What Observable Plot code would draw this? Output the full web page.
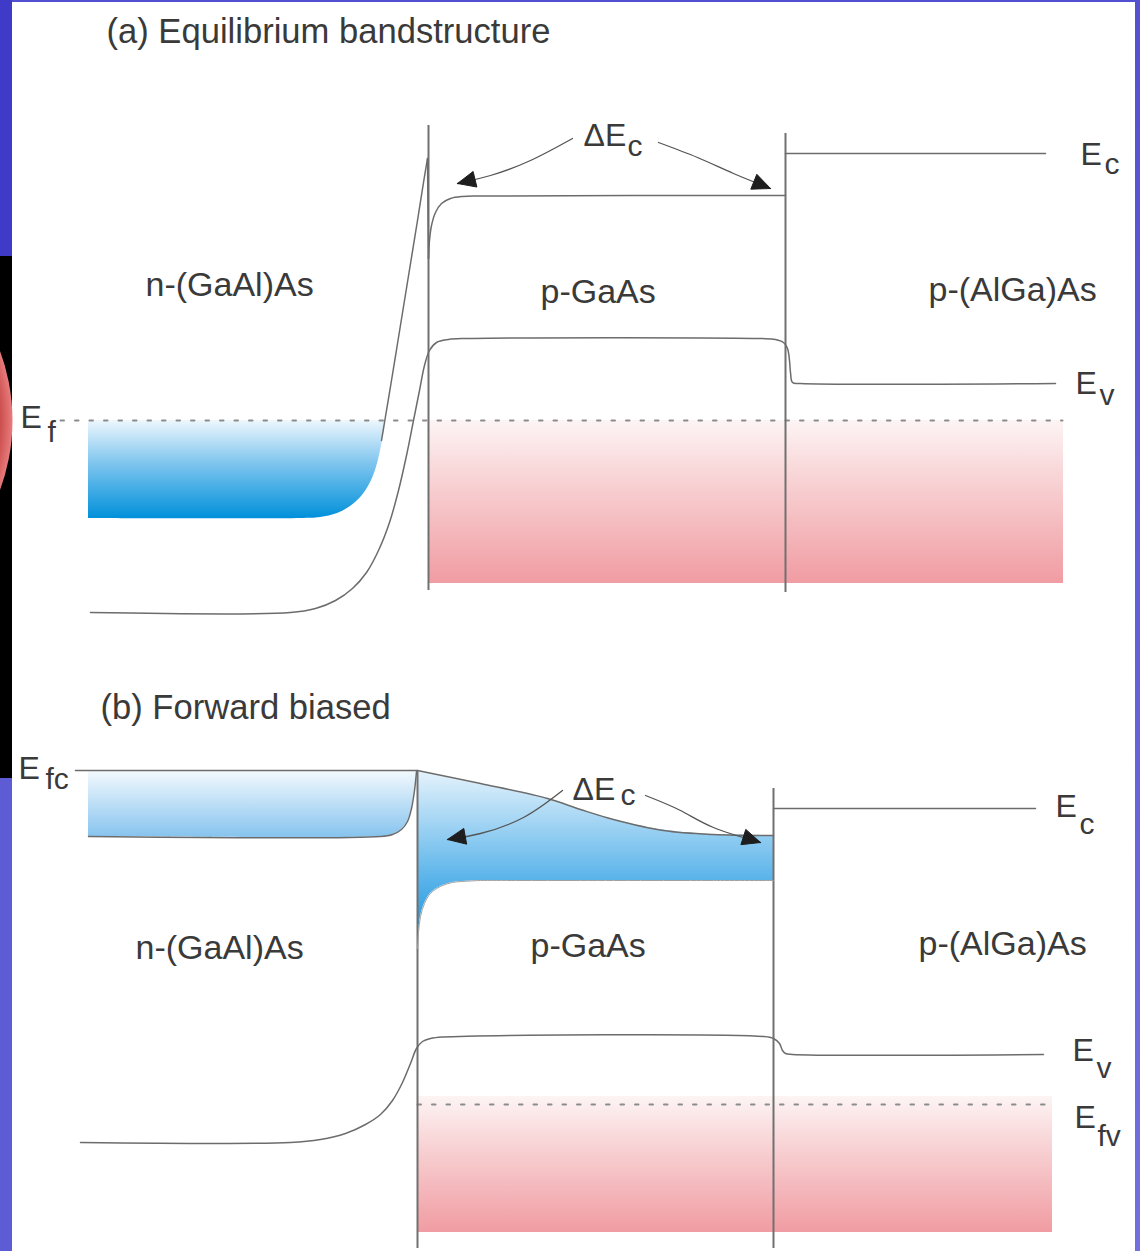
<!DOCTYPE html>
<html><head><meta charset="utf-8">
<script src="https://cdn.jsdelivr.net/npm/d3@7"></script>
<script src="https://cdn.jsdelivr.net/npm/@observablehq/plot@0.6"></script>
<style>html,body{margin:0;padding:0;background:#fff;overflow:hidden}#chart svg{display:block}</style>
</head><body><div id="chart"></div>
<script>
// ---------- DATA (position x, energy level y; both in diagram units) ----------
// Panel (a) equilibrium
const ecA_rise  = [[381,440],[384,422],[391,380],[397.5,340],[404,300],[410.5,260],[417,220],[423,182],[427,158]];
const ecA_spike = [[427,158],[428,258]];
const ecA_pGaAs = [[428,258],[429,240],[431,225],[435,212],[441,203],[450,198],[462,196],[480,195.5],[785,195]];
const ecA_right = [[785,153],[1045,153]];
const evA = [[90,612],[290,612],[315,608],[335,600],[352,588],[366,572],[378,550],[389,522],[398,490],[406,455],[413,420],[419,390],[424,365],[429,350],[436,342],[448,339],[465,338],[760,338],[775,339],[783,342],[787,348],[789,360],[790,372],[792,382],[800,383],[1055,383]];
const efA = [[60,420],[1062,420]];
const nFillA_x = [88,300,320,337,350,361,369,375,379,382,385];
const nFillA_bottom = [518,518,517,513,506,496,484,470,455,440,421];
const nFillA_top = 420;
const pFillA = {x1:428, x2:1063, y1:420, y2:583};

// Panel (b) forward biased
const ecB_left = [[75,770],[417,770]];
const ecB_leftBottom = [[88,836],[380,836],[392,834],[401,829],[407,821],[411,808],[414,790],[416,771]];
const ecB_pGaAs = [[417,770],[480,783],[547,798],[580,809],[613,819],[663,830],[713,834],[773,835]];
const ecB_right = [[773,808],[1035,808]];
const pGaAsB_x      = [417,418,420,424,430,440,452,470,480,515,547,580,613,640,663,690,713,773];
const pGaAsB_top    = [770,770.3,770.8,771.8,773,775.5,778.5,782,784,791,798,809,819,825.5,829.5,832.5,834,835];
const pGaAsB_bottom = [948,932,916,903,893,886,882,880.5,880,880,880,880,880,880,880,880,880,880];
const nFillB_x      = [88,380,392,401,407,411,414,416];
const nFillB_bottom = [836,836,834,829,821,808,790,771];
const nFillB_top = 770;
const evB = [[80,1142],[290,1142],[320,1139],[345,1133],[365,1124],[380,1114],[392,1100],[402,1082],[410,1063],[416,1048],[422,1041],[430,1038],[442,1036.5],[763,1036],[773,1038],[779,1043],[782,1050],[785,1053],[792,1054],[1043,1054]];
const efvB = [[417,1104],[1052,1104]];
const pFillB = {x1:417, x2:1052, y1:1096, y2:1232};

// Heterojunction interfaces
const interfaces = [[428,125,590],[785,133,592],[417,770,1248],[773,788,1248]];

// ΔEc arrows
const arrowPaths = {
  aL: [[572,138],[530,160],[490,175],[457,183]],
  aR: [[658,142],[697,157],[733,173],[770,188]],
  bL: [[562,790],[523,817],[480,833],[447,839]],
  bR: [[645,795],[680,810],[713,827],[760,842]]
};

// Text
const titles = [["(a) Equilibrium bandstructure",106,42],["(b) Forward biased",100,718]];
const regions = [["n-(GaAl)As",145,295],["p-GaAs",540,302],["p-(AlGa)As",928,300],
                 ["n-(GaAl)As",135,958],["p-GaAs",530,956],["p-(AlGa)As",918,954]];
// symbol main part, x, baseline, subscript, x, baseline
const symbols = [["ΔE",583,145,"c",627,155],["E",1080,164,"c",1104,173],["E",1075,393,"v",1099,404],["E",20,427,"f",47,441],
                 ["ΔE",572,799,"c",620,804],["E",18,778,"fc",45,788],["E",1055,816,"c",1079,833],["E",1072,1060,"v",1096,1077],["E",1074,1127,"fv",1097,1145]];

// Slide frame pieces
const frameLeft = [[0,256,"#3f3ac8"],[256,778,"#000000"],[778,1251,"#5d5cd4"]];

// ---------- BUILD ----------
const P = (arr, id) => arr.map(([x,y]) => ({x, y, id}));
const lineCol = "#6c6c6c", textCol = "#3a3a3a";
const font = "'Liberation Sans', Arial, Helvetica, sans-serif";

const nFillA = nFillA_x.map((x,i) => ({x, y1:nFillA_top, y2:nFillA_bottom[i]}));
const nFillB = nFillB_x.map((x,i) => ({x, y1:nFillB_top, y2:nFillB_bottom[i]}));
const pGaAsB = pGaAsB_x.map((x,i) => ({x, y1:pGaAsB_top[i], y2:pGaAsB_bottom[i]}));

const arrowLines = Object.entries(arrowPaths).flatMap(([k,a]) => P(a,k));
const heads = Object.entries(arrowPaths).flatMap(([k,a]) => {
  const [tx,ty] = a[a.length-1], [px,py] = a[a.length-2];
  const d = Math.hypot(tx-px, ty-py), ux = (tx-px)/d, uy = (ty-py)/d;
  const L = 18, W = 8;
  const bx = tx - ux*L, by = ty - uy*L;
  return [{x:tx,y:ty,id:k},{x:bx-uy*W,y:by+ux*W,id:k},{x:bx+uy*W,y:by-ux*W,id:k},{x:tx,y:ty,id:k}];
});

const defs = () => {
  const g = d3.create("svg:defs");
  const lin = (id, stops) => {
    const gr = g.append("linearGradient").attr("id", id).attr("x1",0).attr("y1",0).attr("x2",0).attr("y2",1);
    stops.forEach(([o,c]) => gr.append("stop").attr("offset",o).attr("stop-color",c));
  };
  lin("pinkG", [[0,"#fdf4f4"],[0.35,"#f8d4d6"],[1,"#f09ca2"]]);
  lin("blueA", [[0,"#eef7fd"],[0.45,"#7cc4ee"],[1,"#0090da"]]);
  lin("blueBl", [[0,"#f4fafe"],[1,"#86c3ee"]]);
  lin("blueBp", [[0,"#e6f3fc"],[0.62,"#58b3ea"],[1,"#168ed8"]]);
  lin("rightG", [[0,"#5450d0"],[1,"#7270de"]]);
  const r = g.append("radialGradient").attr("id","redG");
  [[0,"#1a0000"],[0.8,"#6a0c0c"],[0.93,"#c84848"],[1,"#e87c7c"]].forEach(([o,c]) => r.append("stop").attr("offset",o).attr("stop-color",c));
  return g.node();
};

const chart = Plot.plot({
  width: 1140, height: 1251, margin: 0,
  x: {type:"linear", domain:[0,1140], range:[0,1140], axis:null},
  y: {type:"linear", domain:[0,1251], range:[0,1251], axis:null},
  style: {background:"#ffffff", fontFamily: font},
  marks: [
    defs,
    // frame
    Plot.rect(frameLeft, {x1:0, x2:12, y1:d=>d[0], y2:d=>d[1], fill:d=>d[2]}),
    Plot.dot([[-187,420]], {x:d=>d[0], y:d=>d[1], r:199, fill:"url(#redG)", stroke:"none"}),
    Plot.rect([[0,1251]], {x1:1135, x2:1140, y1:d=>d[0], y2:d=>d[1], fill:"url(#rightG)"}),
    Plot.rect([[12,1135]], {x1:d=>d[0], x2:d=>d[1], y1:0, y2:2, fill:"#5250d0"}),
    // fills
    Plot.rect([pFillA, pFillB], {x1:"x1", x2:"x2", y1:"y1", y2:"y2", fill:"url(#pinkG)"}),
    Plot.areaY(nFillA, {x:"x", y1:"y1", y2:"y2", fill:"url(#blueA)", curve:"catmull-rom"}),
    Plot.areaY(nFillB, {x:"x", y1:"y1", y2:"y2", fill:"url(#blueBl)", curve:"catmull-rom"}),
    Plot.areaY(pGaAsB, {x:"x", y1:"y1", y2:"y2", fill:"url(#blueBp)", curve:"catmull-rom"}),
    // Fermi levels
    Plot.line([...P(efA,"a"), ...P(efvB,"b")], {x:"x", y:"y", z:"id", stroke:"#8c8c8c", strokeWidth:2, strokeDasharray:"3.5 11"}),
    // interfaces
    Plot.ruleX(interfaces, {x:d=>d[0], y1:d=>d[1], y2:d=>d[2], stroke:"#707070", strokeWidth:2}),
    // band edges
    Plot.line([...P(ecA_rise,"r"), ...P(ecA_pGaAs,"p"), ...P(evA,"v"), ...P(ecB_leftBottom,"lb"), ...P(ecB_pGaAs,"bp"), ...P(evB,"bv")],
      {x:"x", y:"y", z:"id", curve:"catmull-rom", stroke:lineCol, strokeWidth:1.5}),
    Plot.line([...P(ecA_spike,"s"), ...P(ecA_right,"rr"), ...P(ecB_left,"bl"), ...P(ecB_right,"br")],
      {x:"x", y:"y", z:"id", stroke:lineCol, strokeWidth:1.5}),
    Plot.line(P(pGaAsB_x.map((x,i)=>[x,pGaAsB_bottom[i]]),"bb"), {x:"x", y:"y", curve:"catmull-rom", stroke:"#a0a0a0", strokeWidth:1}),
    // arrows
    Plot.line(arrowLines, {x:"x", y:"y", z:"id", curve:"natural", stroke:"#555", strokeWidth:1.3}),
    Plot.line(heads, {x:"x", y:"y", z:"id", fill:"#1e1e1e", stroke:"#1e1e1e", strokeWidth:1}),
    // text
    Plot.text(titles, {x:d=>d[1], y:d=>d[2], text:d=>d[0], textAnchor:"start", lineAnchor:"bottom", fontSize:34.6, fill:textCol}),
    Plot.text(regions, {x:d=>d[1], y:d=>d[2], text:d=>d[0], textAnchor:"start", lineAnchor:"bottom", fontSize:34, fill:textCol}),
    Plot.text(symbols, {x:d=>d[1], y:d=>d[2], text:d=>d[0], textAnchor:"start", lineAnchor:"bottom", fontSize:32, fill:textCol}),
    Plot.text(symbols, {x:d=>d[4], y:d=>d[5], text:d=>d[3], textAnchor:"start", lineAnchor:"bottom", fontSize:30, fill:textCol})
  ]
});
document.getElementById("chart").appendChild(chart);
</script>
</body></html>
